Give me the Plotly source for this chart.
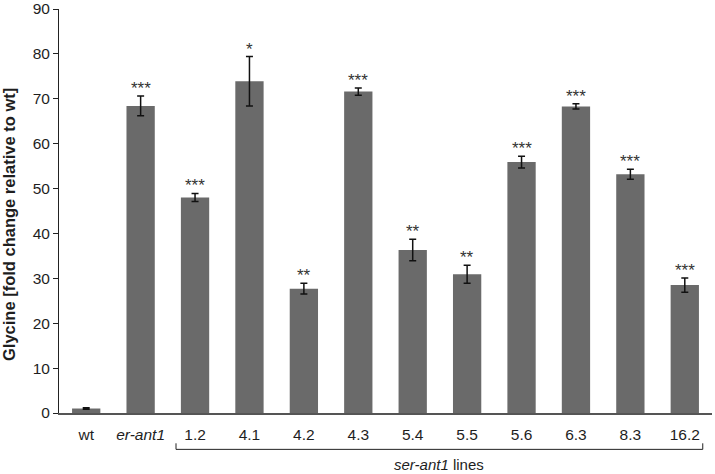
import plotly.graph_objects as go

categories = ["wt", "er-ant1", "1.2", "4.1", "4.2", "4.3", "5.4", "5.5", "5.6", "6.3", "8.3", "16.2"]
tick_labels = ["wt", "<i>er-ant1</i>", "1.2", "4.1", "4.2", "4.3", "5.4", "5.5", "5.6", "6.3", "8.3", "16.2"]
values = [1.0, 68.4, 48.0, 73.9, 27.7, 71.6, 36.3, 30.9, 55.9, 68.3, 53.2, 28.5]
errors = [0.15, 2.2, 0.9, 5.5, 1.2, 0.8, 2.4, 2.0, 1.3, 0.6, 1.1, 1.6]
stars = ["", "***", "***", "*", "**", "***", "**", "**", "***", "***", "***", "***"]

FONT = "Liberation Sans, Arial, sans-serif"
TXT = "#1e1e1e"

fig = go.Figure()
fig.add_trace(go.Bar(
    x=list(range(len(categories))), y=values,
    marker=dict(color="#6a6a6a", line=dict(width=0)),
    error_y=dict(type="data", array=errors, visible=True, color="#111111", thickness=1.5, width=3.5),
    width=0.52,
    showlegend=False,
))

for i, (v, e, s) in enumerate(zip(values, errors, stars)):
    if s:
        fig.add_annotation(x=i, y=v + e, text=s, showarrow=False, yanchor="bottom",
                           yshift=-4, font=dict(family=FONT, size=17, color="#333333"))

# bracket under ser-ant1 lines
x0, x1 = 1.65, 11.33
yb, ye = -0.09, -0.075
fig.add_shape(type="line", xref="x", yref="paper", x0=x0, x1=x1, y0=yb, y1=yb, line=dict(color="#222222", width=1))
fig.add_shape(type="line", xref="x", yref="paper", x0=x0, x1=x0, y0=yb, y1=ye, line=dict(color="#222222", width=1))
fig.add_shape(type="line", xref="x", yref="paper", x0=x1, x1=x1, y0=yb, y1=ye, line=dict(color="#222222", width=1))
fig.add_annotation(x=(x0 + x1) / 2, xref="x", y=-0.127, yref="paper", yanchor="middle",
                   text="<i>ser-ant1</i> lines", borderpad=0,
                   showarrow=False, font=dict(family=FONT, size=15, color=TXT))

# y-axis title
fig.add_annotation(x=0, xref="paper", xshift=-50, xanchor="center", y=0.5, yref="paper", yshift=-14,
                   yanchor="middle",
                   text="<b>Glycine [fold change relative to wt]</b>", textangle=-90,
                   showarrow=False, font=dict(family=FONT, size=16.5, color=TXT))

fig.update_layout(
    width=715, height=474,
    margin=dict(l=59, r=3, t=9, b=61),
    plot_bgcolor="white", paper_bgcolor="white",
    font=dict(family=FONT, size=15, color=TXT),
    xaxis=dict(tickmode="array", tickvals=list(range(len(categories))), ticktext=tick_labels,
               range=[-0.5, len(categories) - 0.5], showline=True, linecolor="#555555", linewidth=1.5,
               ticks="", showgrid=False, automargin=False, ticklabelstandoff=7,
               tickfont=dict(family=FONT, size=15.5, color=TXT)),
    yaxis=dict(range=[0, 90], dtick=10, showline=True, linecolor="#222222", linewidth=1,
               ticks="outside", ticklen=5, tickcolor="#222222", showgrid=False, zeroline=False,
               automargin=False, tickfont=dict(family=FONT, size=15.5, color=TXT)),
)

fig.write_html("out.html", config={"displayModeBar": False},
               post_script="document.body.style.margin='0';document.body.style.overflow='hidden';")
